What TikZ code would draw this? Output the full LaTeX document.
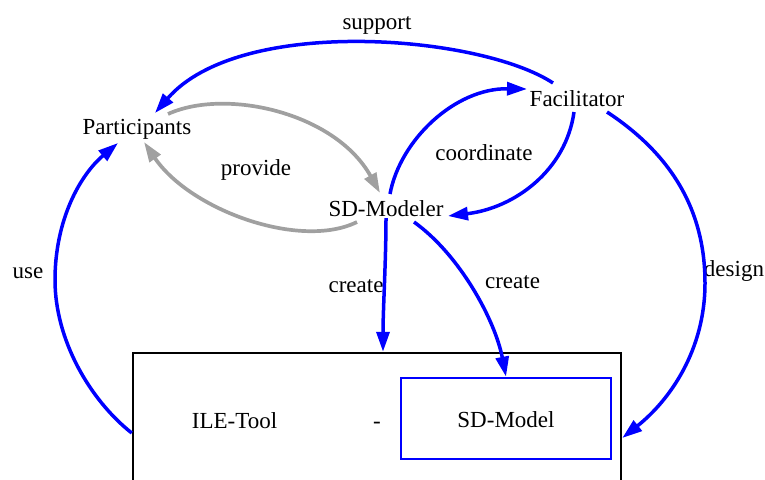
\documentclass[tikz,border=0pt]{standalone}
\usepackage{fontspec}
\setmainfont{Liberation Serif}
\newfontfamily\labelfont{Liberation Serif}
\usetikzlibrary{arrows.meta,calc}
\definecolor{edgegrey}{RGB}{160,160,160}
\tikzset{
  lbl/.style={font=\labelfont\fontsize{23}{27}\selectfont, inner sep=0pt,
              text height=15.6pt, text depth=5.1pt},
  tipstyle/.style={-{Triangle[length=20pt,width=13pt]}},
  flow/.style={draw=blue, line width=3.5pt, tipstyle},
  greyflow/.style={draw=edgegrey, line width=3.7pt, tipstyle},
}
\begin{document}
\begin{tikzpicture}[x=1pt,y=-1pt]
\clip (0,0) rectangle (765,479);

% actors
\node[lbl] (part) at (137,129) {Participants};
\node[lbl] (fac)  at (577,101.5) {Facilitator};
\node[lbl] (sdm)  at (386,211) {SD-Modeler};

% tool container and its model
\node[draw=black, line width=2.5pt, minimum width=488, minimum height=200, inner sep=0pt]
  (ile) at (377,453) {};
\node[lbl] (tool) at (234.5,423) {ILE-Tool};
\node[lbl] (dash) at (377,423) {-};
\node[lbl, draw=blue, line width=2.3pt, minimum width=210, minimum height=81,
      text height=20.7pt, text depth=2.7pt] (sdmodel) at (506,418.3) {SD-Model};

% edge labels
\node[lbl] (lsupport) at (377,24) {support};
\node[lbl] (lprovide) at (256,170.7) {provide};
\node[lbl] (lcoord)   at (484,155) {coordinate};
\node[lbl] (lcreateA) at (356,287) {create};
\node[lbl] (lcreateB) at (512.5,283) {create};
\node[lbl] (ldesign)  at (734,271.4) {design};
\node[lbl] (luse)     at (28,273) {use};

% connectors
\draw[flow] ($(fac)+(-24,-18.5)$) .. controls (480,35) and (240,15) .. ($(part)+(18,-16)$);
\draw[greyflow] ($(part)+(31,-15)$) .. controls (225,88) and (335,112) .. ($(sdm)+(-6,-18)$);
\draw[greyflow] ($(sdm)+(-29,11)$) .. controls (300,250) and (190,210) .. ($(part)+(7,13)$);
\draw[flow] ($(sdm)+(4,-17)$) .. controls (400,140) and (455,88) .. ($(fac)+(-50,-12.5)$);
\draw[flow] ($(fac)+(-3,10.5)$) .. controls (566,170) and (515,208) .. ($(sdm)+(62,5)$);
\draw[flow] ($(sdm)+(0,7)$) .. controls (386,260) and (383,310) .. ($(ile.north)+(6,0)$);
\draw[flow] ($(sdm)+(28,11)$) .. controls (460,255) and (495,320) .. (sdmodel.north);
\draw[flow] ($(fac)+(30,10.5)$) .. controls (680,160) and (705,220) .. (705,283)
            .. controls (705,350) and (670,400) .. ($(ile.east)+(0,-15)$);
\draw[flow] ($(ile.west)+(0,-20)$) .. controls (90,400) and (55,340) .. (55,280)
            .. controls (55,220) and (80,175) .. ($(part)+(-19,14)$);
\end{tikzpicture}
\end{document}
